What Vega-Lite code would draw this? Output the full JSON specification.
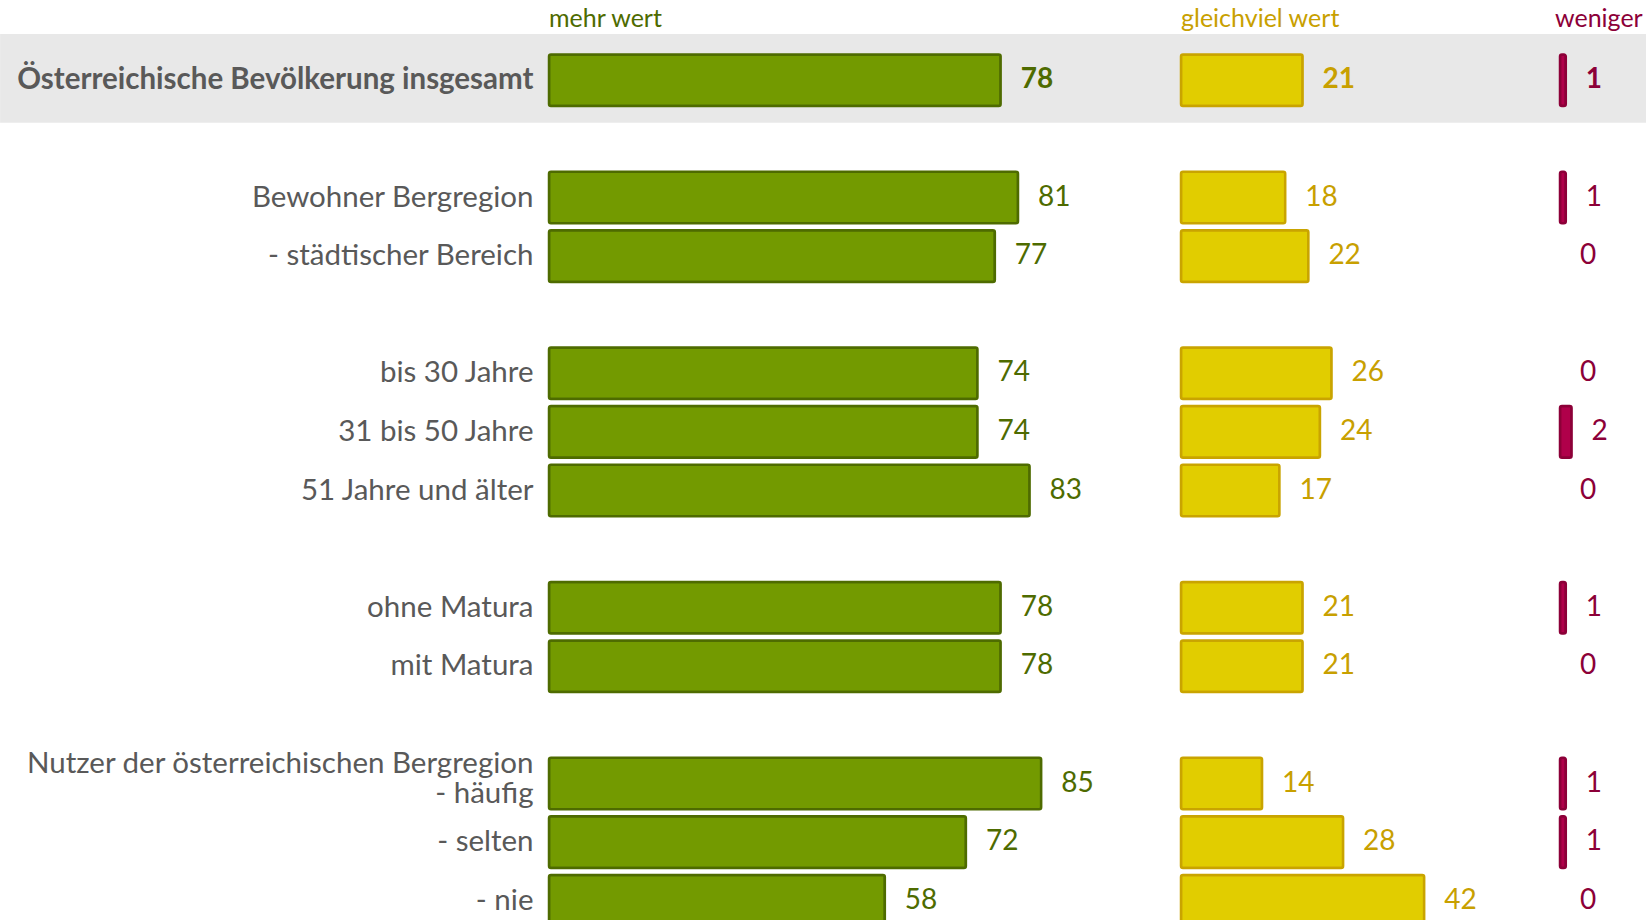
{
  "$schema": "https://vega.github.io/schema/vega-lite/v6.json",
  "padding": {"left": 0, "top": 7, "right": 0, "bottom": 0},
  "background": "white",
  "spacing": 0,
  "bounds": "flush",
  "config": {
    "view": {"stroke": null},
    "font": "Lato",
    "title": {"font": "Lato", "fontSize": 25, "fontWeight": "normal", "anchor": "start", "offset": 1.5, "frame": "group"}
  },
  "datasets": {
    "rows": [
      {"label": "Österreichische Bevölkerung insgesamt", "mehr": 78, "gleich": 21, "weniger": 1},
      {"label": "Bewohner Bergregion", "mehr": 81, "gleich": 18, "weniger": 1},
      {"label": "- städtischer Bereich", "mehr": 77, "gleich": 22, "weniger": 0},
      {"label": "bis 30 Jahre", "mehr": 74, "gleich": 26, "weniger": 0},
      {"label": "31 bis 50 Jahre", "mehr": 74, "gleich": 24, "weniger": 2},
      {"label": "51 Jahre und älter", "mehr": 83, "gleich": 17, "weniger": 0},
      {"label": "ohne Matura", "mehr": 78, "gleich": 21, "weniger": 1},
      {"label": "mit Matura", "mehr": 78, "gleich": 21, "weniger": 0},
      {"label": "Nutzer der österreichischen Bergregion|- häufig", "mehr": 85, "gleich": 14, "weniger": 1},
      {"label": "- selten", "mehr": 72, "gleich": 28, "weniger": 1},
      {"label": "- nie", "mehr": 58, "gleich": 42, "weniger": 0}
    ],
    "band": [{"label": "Österreichische Bevölkerung insgesamt"}]
  },
  "hconcat": [
    {
      "width": 632,
      "height": 879,
      "title": {"text": "mehr wert", "color": "#4e6b00"},
      "data": {"name": "rows"},
      "encoding": {
        "y": {
          "field": "label", "type": "nominal", "sort": null,
          "scale": {"domain": ["Österreichische Bevölkerung insgesamt", " ", "Bewohner Bergregion", "- städtischer Bereich", "  ", "bis 30 Jahre", "31 bis 50 Jahre", "51 Jahre und älter", "   ", "ohne Matura", "mit Matura", "    ", "Nutzer der österreichischen Bergregion|- häufig", "- selten", "- nie"], "paddingInner": 0.12, "paddingOuter": 0.06},
          "axis": {
            "title": null, "domain": false, "ticks": false, "grid": false,
            "labelPadding": 16, "labelFont": "Lato", "labelFontSize": 29.5, "labelColor": "#595959",
            "labelLimit": 0, "minExtent": 549, "maxExtent": 549, "zindex": 1, "labelLineHeight": 30,
            "labelExpr": "split(datum.value, '|')",
            "labelOffset": {"condition": {"test": "indexof(datum.value, '|') >= 0", "value": -20}, "value": 0},
            "labelFontWeight": {"condition": {"test": "datum.value === 'Österreichische Bevölkerung insgesamt'", "value": "bold"}, "value": "normal"}
          }
        }
      },
      "layer": [
        {
          "data": {"name": "band"},
          "mark": {"type": "bar", "color": "#e8e8e8", "height": {"band": 1.72}, "yOffset": -2},
          "encoding": {
            "x": {"datum": -94.8, "type": "quantitative", "scale": {"domain": [0, 109.15]}, "axis": null},
            "x2": {"datum": 109.15}
          }
        },
        {
          "mark": {"type": "bar", "fill": "#739a00", "stroke": "#4e6b00", "strokeWidth": 2.5, "cornerRadius": 2},
          "encoding": {
            "x": {"field": "mehr", "type": "quantitative", "scale": {"domain": [0, 109.15]}, "axis": null}
          }
        },
        {
          "transform": [{"filter": "datum.label !== 'Österreichische Bevölkerung insgesamt'"}],
          "mark": {"type": "text", "align": "left", "baseline": "middle", "dx": 20, "fontSize": 28, "color": "#4e6b00"},
          "encoding": {
            "x": {"field": "mehr", "type": "quantitative", "scale": {"domain": [0, 109.15]}, "axis": null},
            "text": {"field": "mehr"}
          }
        },
        {
          "transform": [{"filter": "datum.label === 'Österreichische Bevölkerung insgesamt'"}],
          "mark": {"type": "text", "align": "left", "baseline": "middle", "dx": 20, "fontSize": 28, "fontWeight": "bold", "color": "#4e6b00"},
          "encoding": {
            "x": {"field": "mehr", "type": "quantitative", "scale": {"domain": [0, 109.15]}, "axis": null},
            "text": {"field": "mehr"}
          }
        }
      ]
    },
    {
      "width": 379,
      "height": 879,
      "title": {"text": "gleichviel wert", "color": "#c8a000"},
      "data": {"name": "rows"},
      "encoding": {
        "y": {
          "field": "label", "type": "nominal", "sort": null,
          "scale": {"domain": ["Österreichische Bevölkerung insgesamt", " ", "Bewohner Bergregion", "- städtischer Bereich", "  ", "bis 30 Jahre", "31 bis 50 Jahre", "51 Jahre und älter", "   ", "ohne Matura", "mit Matura", "    ", "Nutzer der österreichischen Bergregion|- häufig", "- selten", "- nie"], "paddingInner": 0.12, "paddingOuter": 0.06},
          "axis": null
        }
      },
      "layer": [
        {
          "data": {"name": "band"},
          "mark": {"type": "bar", "color": "#e8e8e8", "height": {"band": 1.72}, "yOffset": -2},
          "encoding": {
            "x": {"datum": 0, "type": "quantitative", "scale": {"domain": [0, 65.46]}, "axis": null},
            "x2": {"datum": 65.46}
          }
        },
        {
          "mark": {"type": "bar", "fill": "#e1cd00", "stroke": "#c9a400", "strokeWidth": 2.5, "cornerRadius": 2},
          "encoding": {
            "x": {"field": "gleich", "type": "quantitative", "scale": {"domain": [0, 65.46]}, "axis": null}
          }
        },
        {
          "transform": [{"filter": "datum.label !== 'Österreichische Bevölkerung insgesamt'"}],
          "mark": {"type": "text", "align": "left", "baseline": "middle", "dx": 20, "fontSize": 28, "color": "#c8a000"},
          "encoding": {
            "x": {"field": "gleich", "type": "quantitative", "scale": {"domain": [0, 65.46]}, "axis": null},
            "text": {"field": "gleich"}
          }
        },
        {
          "transform": [{"filter": "datum.label === 'Österreichische Bevölkerung insgesamt'"}],
          "mark": {"type": "text", "align": "left", "baseline": "middle", "dx": 20, "fontSize": 28, "fontWeight": "bold", "color": "#c8a000"},
          "encoding": {
            "x": {"field": "gleich", "type": "quantitative", "scale": {"domain": [0, 65.46]}, "axis": null},
            "text": {"field": "gleich"}
          }
        }
      ]
    },
    {
      "width": 86,
      "height": 879,
      "title": {"text": "weniger", "color": "#8c0038", "dx": -5},
      "data": {"name": "rows"},
      "encoding": {
        "y": {
          "field": "label", "type": "nominal", "sort": null,
          "scale": {"domain": ["Österreichische Bevölkerung insgesamt", " ", "Bewohner Bergregion", "- städtischer Bereich", "  ", "bis 30 Jahre", "31 bis 50 Jahre", "51 Jahre und älter", "   ", "ohne Matura", "mit Matura", "    ", "Nutzer der österreichischen Bergregion|- häufig", "- selten", "- nie"], "paddingInner": 0.12, "paddingOuter": 0.06},
          "axis": null
        }
      },
      "layer": [
        {
          "data": {"name": "band"},
          "mark": {"type": "bar", "color": "#e8e8e8", "height": {"band": 1.72}, "yOffset": -2},
          "encoding": {
            "x": {"datum": 0, "type": "quantitative", "scale": {"domain": [0, 14.85]}, "axis": null},
            "x2": {"datum": 14.85}
          }
        },
        {
          "transform": [{"filter": "datum.weniger > 0"}],
          "mark": {"type": "bar", "fill": "#b0004a", "stroke": "#8c0038", "strokeWidth": 2.5, "cornerRadius": 2},
          "encoding": {
            "x": {"field": "weniger", "type": "quantitative", "scale": {"domain": [0, 14.85]}, "axis": null}
          }
        },
        {
          "transform": [{"filter": "datum.label !== 'Österreichische Bevölkerung insgesamt'"}],
          "mark": {"type": "text", "align": "left", "baseline": "middle", "dx": 20, "fontSize": 28, "color": "#8c0038"},
          "encoding": {
            "x": {"field": "weniger", "type": "quantitative", "scale": {"domain": [0, 14.85]}, "axis": null},
            "text": {"field": "weniger"}
          }
        },
        {
          "transform": [{"filter": "datum.label === 'Österreichische Bevölkerung insgesamt'"}],
          "mark": {"type": "text", "align": "left", "baseline": "middle", "dx": 20, "fontSize": 28, "fontWeight": "bold", "color": "#8c0038"},
          "encoding": {
            "x": {"field": "weniger", "type": "quantitative", "scale": {"domain": [0, 14.85]}, "axis": null},
            "text": {"field": "weniger"}
          }
        }
      ]
    }
  ]
}
